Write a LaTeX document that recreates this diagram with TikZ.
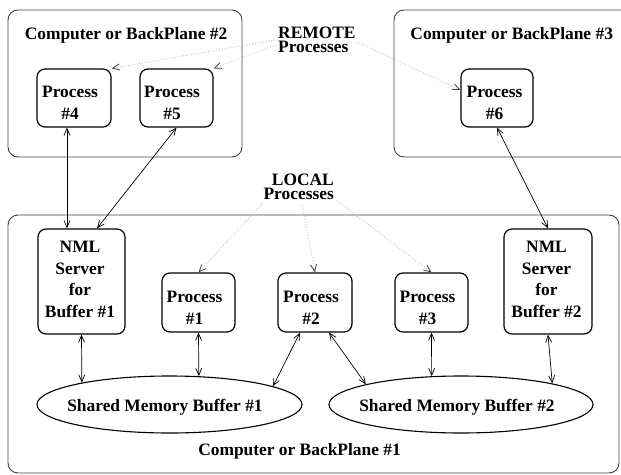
\documentclass[tikz,border=0pt]{standalone}
\usepackage{fontspec}
\setmainfont{Liberation Serif}
\usetikzlibrary{arrows.meta,shapes.geometric}
\begin{document}
\begin{tikzpicture}[x=1pt,y=-1pt,
  lbl/.style={font=\fontsize{17.4}{22}\selectfont\bfseries, inner sep=0pt, anchor=base},
  blk/.style={font=\fontsize{17.4}{22}\selectfont\bfseries, inner sep=0pt, align=center},
  grp/.style={font=\fontsize{17.4}{14}\selectfont\bfseries, inner sep=0pt},
  nmltxt/.style={font=\fontsize{17.4}{21.5}\selectfont\bfseries, inner sep=0pt, align=center},
  host/.style={draw=black!75, line width=0.9pt, rounded corners=10pt},
  procbox/.style={draw, line width=1.2pt, rounded corners=8pt, inner sep=0pt},
  shm/.style={draw, ellipse, line width=1.1pt, inner sep=0pt, minimum width=265pt, minimum height=57pt},
  link/.style={line width=0.7pt, {Straight Barb[length=7pt,width=6pt]}-{Straight Barb[length=7pt,width=6pt]}},
  hint/.style={draw=black!30, line width=0.8pt, dotted, -{Straight Barb[length=7pt,width=6pt,color=black!75]}}
]
\useasboundingbox (0,0) rectangle (621,474);
\clip (0,0) rectangle (621,474);

% host computers
\draw[host] (8,10) rectangle (242,157);
\draw[host] (394,10) rectangle (640,157);
\draw[host] (8,215) rectangle (619,473);

\node[lbl] (h2) at (126,39) {Computer or BackPlane \#2};
\node[lbl] (h3) at (511.7,39) {Computer or BackPlane \#3};
\node[lbl] (h1) at (299.5,455.7) {Computer or BackPlane \#1};

% group labels
\node[grp, align=left, anchor=west] (rem) at (278,40.25) {REMOTE\\Processes};
\node[grp, align=right, anchor=east] (loc) at (334,187.25) {LOCAL\\Processes};

% remote processes
\node[procbox, minimum width=74pt, minimum height=58pt] (p4) at (74,98) {};
\node[procbox, minimum width=73pt, minimum height=58pt] (p5) at (176.5,98) {};
\node[procbox, minimum width=72pt, minimum height=58pt] (p6) at (497,98) {};
\node[blk] (p4t) at (70,103.3) {Process\\\#4};
\node[blk] (p5t) at (172,103.3) {Process\\\#5};
\node[blk] (p6t) at (494.5,103.3) {Process\\\#6};

% NML servers
\node[procbox, minimum width=87pt, minimum height=105pt] (nml1) at (81.5,281.5) {};
\node[procbox, minimum width=88pt, minimum height=105pt] (nml2) at (548,281.5) {};
\node[nmltxt] (nml1t) at (80,279.2) {NML\\Server\\for\\Buffer \#1};
\node[nmltxt] (nml2t) at (546.5,279.2) {NML\\Server\\for\\Buffer \#2};

% local processes
\node[procbox, minimum width=73pt, minimum height=59pt] (p1) at (198.5,302.5) {};
\node[procbox, minimum width=74pt, minimum height=59pt] (p2) at (315,302.5) {};
\node[procbox, minimum width=73pt, minimum height=59pt] (p3) at (431.5,302.5) {};
\node[blk] (p1t) at (194.5,308) {Process\\\#1};
\node[blk] (p2t) at (311,308) {Process\\\#2};
\node[blk] (p3t) at (427.5,308) {Process\\\#3};

% shared memory buffers
\node[shm] (m1) at (169.5,404.5) {};
\node[shm, minimum width=264pt] (m2) at (461,404.5) {};
\node[lbl] (m1t) at (165,411.7) {Shared Memory Buffer \#1};
\node[lbl] (m2t) at (457,411.7) {Shared Memory Buffer \#2};

% network links
\draw[link] ([xshift=-7pt]p4.south) -- ([xshift=-14.5pt]nml1.north);
\draw[link] (p5.south) -- ([xshift=15.5pt]nml1.north);
\draw[link] (p6.south) -- (nml2.north);

% shared memory access
\draw[link] (nml1.south) -- (m1.166.5);
\draw[link] (p1.south) -- (m1.44.3);
\draw[link] ([xshift=-15pt]p2.south) -- (m1.10);
\draw[link] ([xshift=14pt]p2.south) -- (m2.168);
\draw[link] (p3.south) -- (m2.136.2);
\draw[link] (nml2.south) -- (m2.13.8);

% pointers from the group labels
\coordinate (r1) at (275,40);
\coordinate (r2) at (276,45);
\coordinate (r3) at (357,42);
\coordinate (l1) at (262,204);
\coordinate (l2) at (302,205);
\coordinate (l3) at (337,201);
\draw[hint] (r1) -- (p4.north east);
\draw[hint] (r2) -- (p5.north east);
\draw[hint] (r3) -- ([yshift=8pt]p6.west);
\draw[hint] (l1) -- (p1.north);
\draw[hint] (l2) -- (p2.north);
\draw[hint] (l3) -- (p3.north);
\end{tikzpicture}
\end{document}
